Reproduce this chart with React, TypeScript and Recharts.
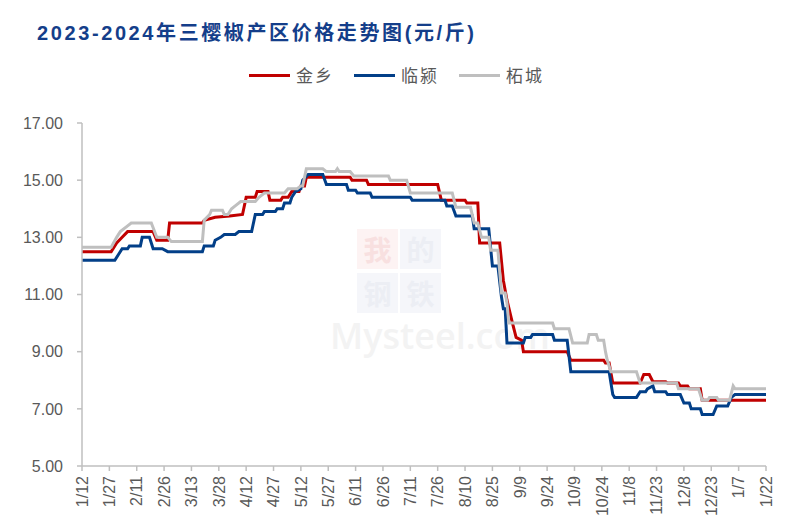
import React from 'react';
import { LineChart, Line, XAxis, YAxis } from 'recharts';

// x axis: day index counted from 2023-01-12, one label every 15 days
const tickLabels = [
  '1/12', '1/27', '2/11', '2/26', '3/13', '3/28', '4/12', '4/27', '5/12',
  '5/27', '6/11', '6/26', '7/11', '7/26', '8/10', '8/25', '9/9', '9/24',
  '10/9', '10/24', '11/8', '11/23', '12/8', '12/23', '1/7', '1/22',
];
const yTicks = [5, 7, 9, 11, 13, 15, 17];

// [day, price] points where the price changes
const jinxiang = [
  [0, 12.5], [16, 12.5], [19, 12.8], [22, 13.0], [25, 13.2], [39, 13.2], [41, 12.9],
  [47, 12.9], [48, 13.5], [66, 13.5], [67, 13.6], [73, 13.7], [81, 13.75], [88, 13.8],
  [90, 14.4], [95, 14.4], [96, 14.6], [102, 14.6], [103, 14.3], [109, 14.3], [110, 14.4],
  [113, 14.4], [115, 14.6], [119, 14.6], [120, 14.8], [122, 14.8], [123, 15.1], [147, 15.1],
  [148, 15.0], [156, 15.0], [157, 14.85], [195, 14.85], [197, 14.3], [210, 14.3],
  [211, 14.2], [217, 14.2], [218, 12.8], [229, 12.8], [231, 11.5], [233, 10.8], [236, 10.0],
  [238, 9.5], [241, 9.4], [242, 9.0], [266, 9.0], [268, 8.7], [286, 8.7], [287, 8.6],
  [289, 8.6], [291, 7.9], [306, 7.9], [308, 8.2], [311, 8.2], [313, 7.95], [320, 7.95],
  [321, 7.9], [327, 7.9], [328, 7.8], [332, 7.8], [333, 7.7], [339, 7.7], [340, 7.3],
  [375, 7.3],
];
const linying = [
  [0, 12.2], [18, 12.2], [20, 12.4], [22, 12.6], [25, 12.6], [26, 12.7], [32, 12.7],
  [33, 13.0], [37, 13.0], [39, 12.6], [44, 12.6], [47, 12.5], [66, 12.5], [67, 12.7],
  [72, 12.7], [73, 12.9], [76, 13.0], [78, 13.1], [84, 13.1], [86, 13.2], [93, 13.2],
  [95, 13.8], [99, 13.8], [100, 13.9], [106, 13.9], [107, 14.0], [110, 14.0], [111, 14.2],
  [114, 14.2], [115, 14.4], [117, 14.6], [120, 14.7], [121, 15.0], [124, 15.2], [132, 15.2],
  [134, 14.85], [145, 14.85], [146, 14.65], [150, 14.65], [151, 14.55], [158, 14.55],
  [159, 14.4], [180, 14.4], [181, 14.3], [199, 14.3], [200, 14.1], [203, 14.1], [205, 13.75],
  [214, 13.75], [215, 13.3], [223, 13.3], [225, 12.0], [228, 12.0], [230, 10.9], [231, 10.5],
  [232, 10.5], [233, 9.3], [242, 9.3], [243, 9.5], [246, 9.5], [247, 9.6], [258, 9.6],
  [259, 9.4], [266, 9.4], [268, 8.3], [289, 8.3], [291, 7.5], [292, 7.4], [304, 7.4],
  [306, 7.6], [309, 7.6], [310, 7.7], [313, 7.8], [314, 7.6], [320, 7.6], [321, 7.5],
  [328, 7.5], [330, 7.2], [333, 7.2], [334, 7.0], [339, 7.0], [340, 6.8], [346, 6.8],
  [348, 7.1], [354, 7.1], [356, 7.4], [358, 7.5], [375, 7.5],
];
const zhecheng = [
  [0, 12.65], [16, 12.65], [19, 13.0], [21, 13.2], [25, 13.4], [27, 13.5], [38, 13.5],
  [41, 13.0], [47, 13.0], [49, 12.85], [66, 12.85], [67, 13.6], [70, 13.8], [71, 13.95],
  [77, 13.95], [78, 13.8], [80, 13.8], [82, 14.0], [84, 14.1], [87, 14.25], [95, 14.25],
  [97, 14.4], [100, 14.55], [111, 14.55], [113, 14.7], [118, 14.7], [120, 14.8], [121, 14.8],
  [123, 15.4], [132, 15.4], [134, 15.3], [139, 15.3], [140, 15.4], [141, 15.3], [147, 15.3],
  [149, 15.15], [168, 15.15], [169, 15.0], [178, 15.0], [180, 14.55], [203, 14.55],
  [205, 14.05], [213, 14.05], [215, 13.5], [217, 13.5], [219, 13.0], [223, 13.0],
  [224, 12.55], [228, 12.55], [230, 11.05], [232, 11.05], [233, 10.7], [234, 10.0],
  [258, 10.0], [259, 9.8], [267, 9.8], [269, 9.3], [277, 9.3], [278, 9.6], [282, 9.6],
  [283, 9.4], [286, 9.4], [287, 9.0], [288, 8.7], [290, 8.3], [304, 8.3], [306, 7.9],
  [326, 7.9], [327, 7.7], [338, 7.7], [340, 7.3], [343, 7.3], [344, 7.4], [348, 7.4],
  [349, 7.3], [355, 7.3], [357, 7.8], [358, 7.7], [375, 7.7],
];

const series = [
  { name: '金乡', color: '#C00000', points: jinxiang },
  { name: '临颍', color: '#023F88', points: linying },
  { name: '柘城', color: '#BFBFBF', points: zhecheng },
];

const toRows = (pts: number[][]) => pts.map(([d, v]) => ({ d, v }));

const labelFont = '"Liberation Sans", "Noto Sans CJK SC", sans-serif';

const XTick = (props: any) => {
  const { x, y, payload } = props;
  const label = tickLabels[Math.round(payload.value / 15)];
  return (
    <g transform={`translate(${x},${y}) rotate(-90)`}>
      <text x={0} y={0} dy="0.36em" textAnchor="end" fill="#595959" fontSize={16} fontFamily={labelFont}>
        {label}
      </text>
    </g>
  );
};

const ChartLegend = () => (
  <div style={{ position: 'absolute', left: 249, top: 63, display: 'flex', alignItems: 'center' }}>
    {series.map((s) => (
      <div key={s.name} style={{ display: 'flex', alignItems: 'center', marginRight: 20 }}>
        <div style={{ width: 41, height: 3, background: s.color }} />
        <span
          style={{
            marginLeft: 6,
            fontSize: 17,
            letterSpacing: 2,
            lineHeight: '24px',
            color: '#595959',
            fontFamily: '"Noto Sans CJK SC", sans-serif',
          }}
        >
          {s.name}
        </span>
      </div>
    ))}
  </div>
);

// faint "我的钢铁 Mysteel.com" watermark behind the plot
const Watermark = () => {
  const box = (ch: string, bg: string, fg: string, left: number, top: number) => (
    <div
      key={ch}
      style={{
        position: 'absolute', left, top, width: 41, height: 40, background: bg, color: fg,
        fontSize: 28, lineHeight: '40px', textAlign: 'center', fontWeight: 'bold',
        overflow: 'hidden', fontFamily: '"Noto Sans CJK SC", serif',
      }}
    >
      {ch}
    </div>
  );
  return (
    <div style={{ position: 'absolute', left: 0, top: 0, width: 791, height: 526 }}>
      {box('我', '#FDF3F3', '#F8E0E0', 357, 229)}
      {box('的', '#F5F6FA', '#ECEEF4', 400, 229)}
      {box('钢', '#F5F6FA', '#ECEEF4', 357, 273)}
      {box('铁', '#F5F6FA', '#ECEEF4', 400, 273)}
      <div
        style={{
          position: 'absolute', left: 330, top: 318, fontSize: 36, lineHeight: '36px',
          color: '#F3F3F3', fontFamily: '"Open Sans", sans-serif', fontWeight: 600,
        }}
      >
        Mysteel.com
      </div>
    </div>
  );
};

export default function App() {
  return (
    <div style={{ position: 'absolute', left: 0, top: 0, width: 791, height: 526, background: '#fff' }}>
      <Watermark />
      <div
        style={{
          position: 'absolute', left: 37, top: 19, fontSize: 20, lineHeight: '28px', fontWeight: 'bold',
          color: '#143E8A', letterSpacing: 2.6, whiteSpace: 'nowrap',
          fontFamily: '"Liberation Sans", "Noto Sans CJK SC", sans-serif',
        }}
      >
        2023-2024年三樱椒产区价格走势图(元/斤)
      </div>
      <ChartLegend />
      <div style={{ position: 'absolute', left: 0, top: 0 }}>
        <LineChart width={791} height={526} margin={{ top: 123, right: 25, bottom: 0, left: 22 }}>
          <XAxis
            type="number"
            dataKey="d"
            domain={[0, 375]}
            ticks={tickLabels.map((_, i) => i * 15)}
            interval={0}
            height={60}
            stroke="#BFBFBF"
            strokeWidth={1.5}
            tickSize={5}
            tickMargin={5}
            tick={<XTick />}
          />
          <YAxis
            type="number"
            domain={[5, 17]}
            ticks={yTicks}
            interval={0}
            width={60}
            stroke="#BFBFBF"
            strokeWidth={1.5}
            tickSize={5}
            tickMargin={14}
            tickFormatter={(v: number) => v.toFixed(2)}
            tick={{ fill: '#595959', fontSize: 16, fontFamily: labelFont }}
          />
          {series.map((s) => (
            <Line
              key={s.name}
              data={toRows(s.points)}
              dataKey="v"
              name={s.name}
              type="linear"
              stroke={s.color}
              strokeWidth={3}
              dot={false}
              activeDot={false}
              isAnimationActive={false}
            />
          ))}
        </LineChart>
      </div>
    </div>
  );
}
